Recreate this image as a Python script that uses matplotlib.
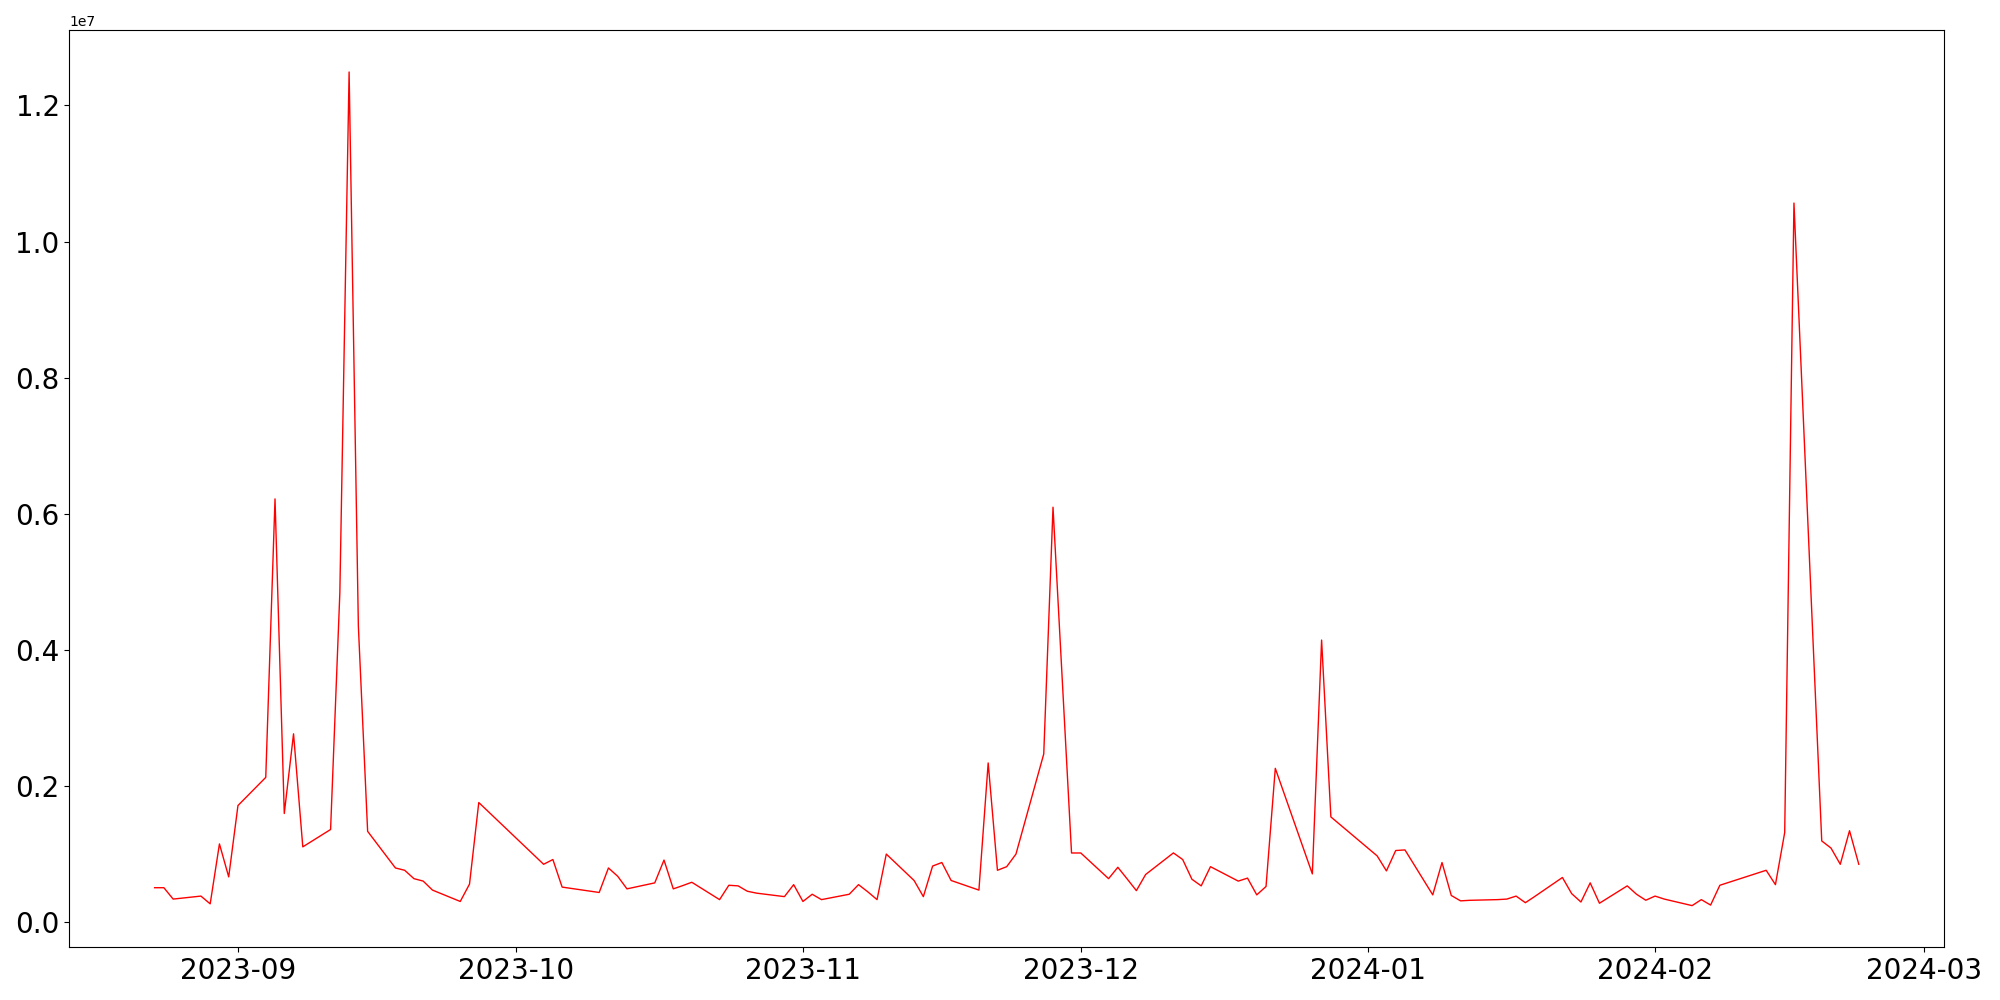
import matplotlib
matplotlib.use("Agg")
import matplotlib.pyplot as plt
import pandas as pd

# trading days (KRX calendar) and daily values
dates = [
    "2023-08-23", "2023-08-24", "2023-08-25", "2023-08-28", "2023-08-29", "2023-08-30", "2023-08-31",
    "2023-09-01", "2023-09-04", "2023-09-05", "2023-09-06", "2023-09-07", "2023-09-08",
    "2023-09-11", "2023-09-12", "2023-09-13", "2023-09-14", "2023-09-15",
    "2023-09-18", "2023-09-19", "2023-09-20", "2023-09-21", "2023-09-22",
    "2023-09-25", "2023-09-26", "2023-09-27",
    "2023-10-04", "2023-10-05", "2023-10-06", "2023-10-10", "2023-10-11", "2023-10-12", "2023-10-13",
    "2023-10-16", "2023-10-17", "2023-10-18", "2023-10-19", "2023-10-20",
    "2023-10-23", "2023-10-24", "2023-10-25", "2023-10-26", "2023-10-27",
    "2023-10-30", "2023-10-31", "2023-11-01", "2023-11-02", "2023-11-03",
    "2023-11-06", "2023-11-07", "2023-11-08", "2023-11-09", "2023-11-10",
    "2023-11-13", "2023-11-14", "2023-11-15", "2023-11-16", "2023-11-17",
    "2023-11-20", "2023-11-21", "2023-11-22", "2023-11-23", "2023-11-24",
    "2023-11-27", "2023-11-28", "2023-11-29", "2023-11-30", "2023-12-01",
    "2023-12-04", "2023-12-05", "2023-12-06", "2023-12-07", "2023-12-08",
    "2023-12-11", "2023-12-12", "2023-12-13", "2023-12-14", "2023-12-15",
    "2023-12-18", "2023-12-19", "2023-12-20", "2023-12-21", "2023-12-22",
    "2023-12-26", "2023-12-27", "2023-12-28",
    "2024-01-02", "2024-01-03", "2024-01-04", "2024-01-05",
    "2024-01-08", "2024-01-09", "2024-01-10", "2024-01-11", "2024-01-12",
    "2024-01-15", "2024-01-16", "2024-01-17", "2024-01-18", "2024-01-19",
    "2024-01-22", "2024-01-23", "2024-01-24", "2024-01-25", "2024-01-26",
    "2024-01-29", "2024-01-30", "2024-01-31", "2024-02-01", "2024-02-02",
    "2024-02-05", "2024-02-06", "2024-02-07", "2024-02-08",
    "2024-02-13", "2024-02-14", "2024-02-15", "2024-02-16",
    "2024-02-19", "2024-02-20", "2024-02-21", "2024-02-22", "2024-02-23",
]

values = [
    510000, 510000, 343000, 387000, 273000, 1153000, 669000,
    1717000, 2130000, 6220000, 1600000, 2770000, 1110000,
    1365000, 4840000, 12490000, 4350000, 1338000,
    800000, 766000, 643000, 607000, 475000,
    308000, 563000, 1761000,
    854000, 924000, 519000, 440000, 800000, 678000, 493000,
    581000, 916000, 493000, 540000, 590000,
    335000, 546000, 537000, 458000, 430000,
    379000, 555000, 308000, 414000, 335000,
    414000, 555000, 450000, 335000, 1004000,
    616000, 379000, 828000, 880000, 616000,
    475000, 2342000, 766000, 819000, 1004000,
    2474000, 6098000, 3560000, 1020000, 1020000,
    643000, 810000, 640000, 467000, 704000,
    1021000, 924000, 634000, 537000, 819000,
    607000, 651000, 405000, 528000, 2263000,
    713000, 4147000, 1550000,
    977000, 757000, 1056000, 1065000,
    405000, 880000, 396000, 317000, 325000,
    335000, 343000, 387000, 290000, 380000,
    660000, 423000, 300000, 581000, 282000,
    537000, 414000, 326000, 387000, 343000,
    247000, 335000, 255000, 546000,
    766000, 555000, 1320000, 10565000,
    1197000, 1092000, 854000, 1347000, 854000,
]

x = pd.to_datetime(dates)

fig, ax = plt.subplots(figsize=(20, 10), dpi=100)
ax.plot(x, values, color="red", linewidth=1)

plt.xticks(fontsize=20)
plt.yticks(fontsize=20)

fig.subplots_adjust(left=0.0347, right=0.972, top=0.9697, bottom=0.0527)
fig.savefig("out.png", dpi=100)
